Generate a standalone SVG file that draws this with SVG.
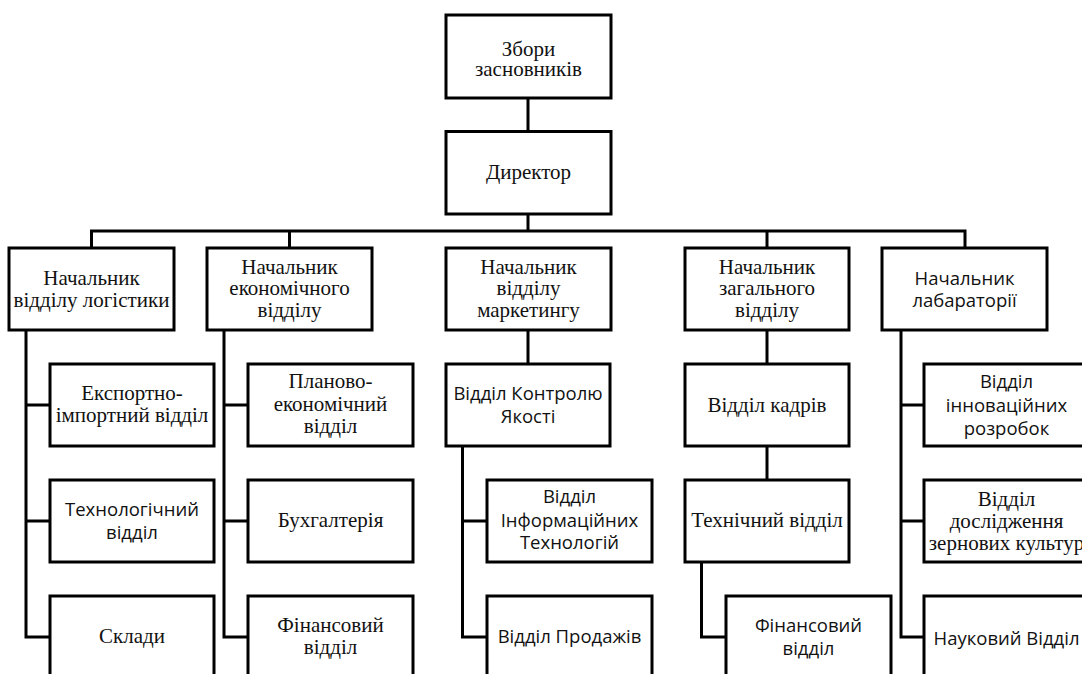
<svg xmlns="http://www.w3.org/2000/svg" width="1082" height="674" viewBox="0 0 1082 674">
<style>
rect.b { fill: #fff; stroke: #000; stroke-width: 3; }
.c { fill: none; stroke: #000; stroke-width: 3; }
text { text-anchor: middle; fill: #111; }
.s { font-family: 'Liberation Serif', 'Times New Roman', serif; font-size: 21px; }
.n { font-family: 'Open Sans', 'Noto Sans', sans-serif; font-size: 18.5px; }
</style>
<rect width="1082" height="674" fill="#fff"/>
<g id="connectors" class="c">
  <path d="M528 98 V131.5"/>
  <path d="M528 214 V231"/>
  <path d="M91.5 248 V231 H965 V248"/>
  <path d="M289.5 231 V248"/>
  <path d="M767 231 V248"/>
  <path d="M26 330 V637 H50 M26 405 H50 M26 521 H50"/>
  <path d="M224 330 V637 H248 M224 405 H248 M224 521 H248"/>
  <path d="M528 330 V364"/>
  <path d="M462.5 446 V637 H487 M462.5 521 H487"/>
  <path d="M767 330 V364 M767 446 V480"/>
  <path d="M701.5 562 V637 H726"/>
  <path d="M901 330 V637 H924 M901 405 H924 M901 521 H924"/>
</g>
<g id="n-zbory"><rect class="b" x="446" y="15" width="165" height="83"/><text class="s" x="528.5" y="56">Збори</text><text class="s" x="528.5" y="76">засновників</text></g>
<g id="n-dyrektor"><rect class="b" x="446" y="131.5" width="165" height="82.5"/><text class="s" x="528.5" y="179">Директор</text></g>
<g id="n-logistics"><rect class="b" x="9" y="248" width="165" height="82"/><text class="s" x="91.5" y="285">Начальник</text><text class="s" x="91.5" y="306.5">відділу логістики</text></g>
<g id="n-economic"><rect class="b" x="207" y="248" width="165" height="82"/><text class="s" x="289.5" y="273.5">Начальник</text><text class="s" x="289.5" y="295">економічного</text><text class="s" x="289.5" y="316.5">відділу</text></g>
<g id="n-marketing"><rect class="b" x="446" y="248" width="165" height="82"/><text class="s" x="528.5" y="273.5">Начальник</text><text class="s" x="528.5" y="295">відділу</text><text class="s" x="528.5" y="316.5">маркетингу</text></g>
<g id="n-general"><rect class="b" x="685" y="248" width="164" height="82"/><text class="s" x="767" y="273.5">Начальник</text><text class="s" x="767" y="295">загального</text><text class="s" x="767" y="316.5">відділу</text></g>
<g id="n-lab"><rect class="b" x="882" y="248" width="165" height="82"/><text class="n" x="964.5" y="285">Начальник</text><text class="n" x="964.5" y="307">лабараторії</text></g>
<g id="n-export"><rect class="b" x="50" y="364" width="164" height="82"/><text class="s" x="132" y="400">Експортно-</text><text class="s" x="132" y="421.5">імпортний відділ</text></g>
<g id="n-tech"><rect class="b" x="50" y="480" width="164" height="82"/><text class="n" x="132" y="516">Технологічний</text><text class="n" x="132" y="539">відділ</text></g>
<g id="n-sklady"><rect class="b" x="50" y="596" width="164" height="82"/><text class="s" x="132" y="643">Склади</text></g>
<g id="n-plan"><rect class="b" x="248" y="364" width="165" height="82"/><text class="s" x="330.5" y="388">Планово-</text><text class="s" x="330.5" y="410.5">економічний</text><text class="s" x="330.5" y="433">відділ</text></g>
<g id="n-buh"><rect class="b" x="248" y="480" width="165" height="82"/><text class="s" x="330.5" y="527">Бухгалтерія</text></g>
<g id="n-fin1"><rect class="b" x="248" y="596" width="165" height="82"/><text class="s" x="330.5" y="632">Фінансовий</text><text class="s" x="330.5" y="654">відділ</text></g>
<g id="n-quality"><rect class="b" x="446" y="364" width="164" height="82"/><text class="n" x="528" y="400">Відділ Контролю</text><text class="n" x="528" y="423">Якості</text></g>
<g id="n-it"><rect class="b" x="487" y="480" width="165" height="82"/><text class="n" x="569.5" y="503">Відділ</text><text class="n" x="569.5" y="526.5">Інформаційних</text><text class="n" x="569.5" y="549">Технологій</text></g>
<g id="n-sales"><rect class="b" x="487" y="596" width="165" height="82"/><text class="n" x="569.5" y="643">Відділ Продажів</text></g>
<g id="n-hr"><rect class="b" x="685" y="364" width="164" height="82"/><text class="s" x="767" y="411.5">Відділ кадрів</text></g>
<g id="n-technical"><rect class="b" x="685" y="480" width="164" height="82"/><text class="s" x="767" y="527">Технічний відділ</text></g>
<g id="n-fin2"><rect class="b" x="726" y="596" width="165" height="82"/><text class="n" x="808.5" y="632">Фінансовий</text><text class="n" x="808.5" y="655">відділ</text></g>
<g id="n-innov"><rect class="b" x="924" y="364" width="165" height="82"/><text class="n" x="1006.5" y="388">Відділ</text><text class="n" x="1006.5" y="411.5">інноваційних</text><text class="n" x="1006.5" y="435">розробок</text></g>
<g id="n-grain"><rect class="b" x="924" y="480" width="165" height="82"/><text class="s" x="1006.5" y="506">Відділ</text><text class="s" x="1006.5" y="528">дослідження</text><text class="s" x="1006.5" y="550">зернових культур</text></g>
<g id="n-science"><rect class="b" x="924" y="596" width="165" height="82"/><text class="n" x="1006.5" y="645">Науковий Відділ</text></g>
</svg>
